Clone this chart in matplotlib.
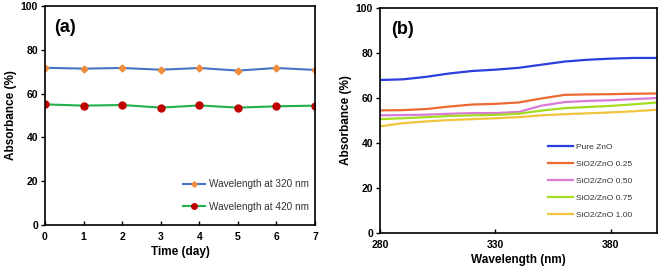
import numpy as np
import matplotlib
matplotlib.use("Agg")
import matplotlib.pyplot as plt

plt.rcParams['font.family'] = ['Liberation Sans', 'DejaVu Sans']

# panel (a) data
days = [0, 1, 2, 3, 4, 5, 6, 7]
abs_320 = [71.8, 71.4, 71.7, 70.9, 71.7, 70.5, 71.7, 70.8]
abs_420 = [55.1, 54.5, 54.8, 53.6, 54.6, 53.6, 54.2, 54.5]

# panel (b) data
wavelength = [280, 290, 300, 310, 320, 330, 340, 350, 360, 370, 380, 390, 400]
pure_zno = [68.0, 68.3, 69.4, 70.9, 72.0, 72.6, 73.4, 74.8, 76.2, 77.0, 77.5, 77.8, 77.8]
sz_025 = [54.5, 54.6, 55.1, 56.2, 57.1, 57.4, 58.0, 59.8, 61.4, 61.6, 61.7, 61.9, 62.0]
sz_050 = [52.3, 52.4, 52.6, 53.0, 53.3, 53.3, 53.8, 56.6, 58.2, 58.7, 59.0, 59.5, 60.0]
sz_075 = [50.6, 51.0, 51.5, 52.0, 52.3, 52.5, 53.0, 54.4, 55.5, 56.0, 56.5, 57.2, 58.0]
sz_100 = [47.4, 48.8, 49.6, 50.2, 50.6, 51.0, 51.5, 52.3, 52.8, 53.2, 53.6, 54.1, 54.8]
labels_b = ['Pure ZnO', 'SiO2/ZnO 0.25', 'SiO2/ZnO 0.50', 'SiO2/ZnO 0.75', 'SiO2/ZnO 1.00']
colors_b = ['#2a3fdc', '#ec6a32', '#d97ad6', '#a4dc22', '#f0c43c']

fig = plt.figure(figsize=(6.61, 2.75), dpi=100)
ax1 = fig.add_axes([45/661, 1 - 225/275, 270/661, 219/275])
ax2 = fig.add_axes([380/661, 1 - 233/275, 277/661, 225/275])

ax1.plot(days, abs_320, color='#4472c4', lw=1.5, marker='D', ms=3.5,
         mfc='#f08c3c', mec='#f08c3c', label='Wavelength at 320 nm')
ax1.plot(days, abs_420, color='#22b04b', lw=1.5, marker='o', ms=5,
         mfc='#c00000', mec='#c00000', label='Wavelength at 420 nm')
ax1.set_xlim(0, 7)
ax1.set_ylim(0, 100)
ax1.set_xticks(days)
ax1.set_yticks([0, 20, 40, 60, 80, 100])
ax1.set_xlabel('Time (day)', fontsize=8.5, fontweight='bold', labelpad=3)
ax1.set_ylabel('Absorbance (%)', fontsize=8.5, fontweight='bold', labelpad=3)
ax1.text(0.035, 0.94, '(a)', transform=ax1.transAxes, fontsize=13,
         fontweight='bold', va='top')
ax1.legend(loc='upper left', bbox_to_anchor=(0.51, 0.21), frameon=False,
           fontsize=7.2, labelcolor='#333333', handlelength=2.2,
           labelspacing=1.25, handletextpad=0.4, markerscale=0.8,
           borderpad=0, borderaxespad=0)

for c, y, lab in zip(colors_b, [pure_zno, sz_025, sz_050, sz_075, sz_100], labels_b):
    ax2.plot(wavelength, y, color=c, lw=1.6, label=lab)
ax2.set_xlim(280, 400)
ax2.set_ylim(0, 100)
ax2.set_xticks([280, 330, 380])
ax2.set_yticks([0, 20, 40, 60, 80, 100])
ax2.set_xlabel('Wavelength (nm)', fontsize=8.5, fontweight='bold', labelpad=3)
ax2.set_ylabel('Absorbance (%)', fontsize=8.5, fontweight='bold', labelpad=3)
ax2.text(0.04, 0.94, '(b)', transform=ax2.transAxes, fontsize=13,
         fontweight='bold', va='top')
ax2.legend(loc='upper left', bbox_to_anchor=(0.606, 0.40), frameon=False,
           fontsize=6.0, labelcolor='#333333', handlelength=3.0,
           labelspacing=1.1, handletextpad=0.4, borderpad=0, borderaxespad=0)

for ax in (ax1, ax2):
    for s in ax.spines.values():
        s.set_linewidth(1.2)
    ax.tick_params(axis='x', direction='in', length=3, width=1, labelsize=7.5, pad=5)
    ax.tick_params(axis='y', direction='out', length=3, width=1, labelsize=7.5, pad=2)
    for t in ax.get_xticklabels() + ax.get_yticklabels():
        t.set_fontweight('bold')

fig.savefig('out.png', dpi=100)
